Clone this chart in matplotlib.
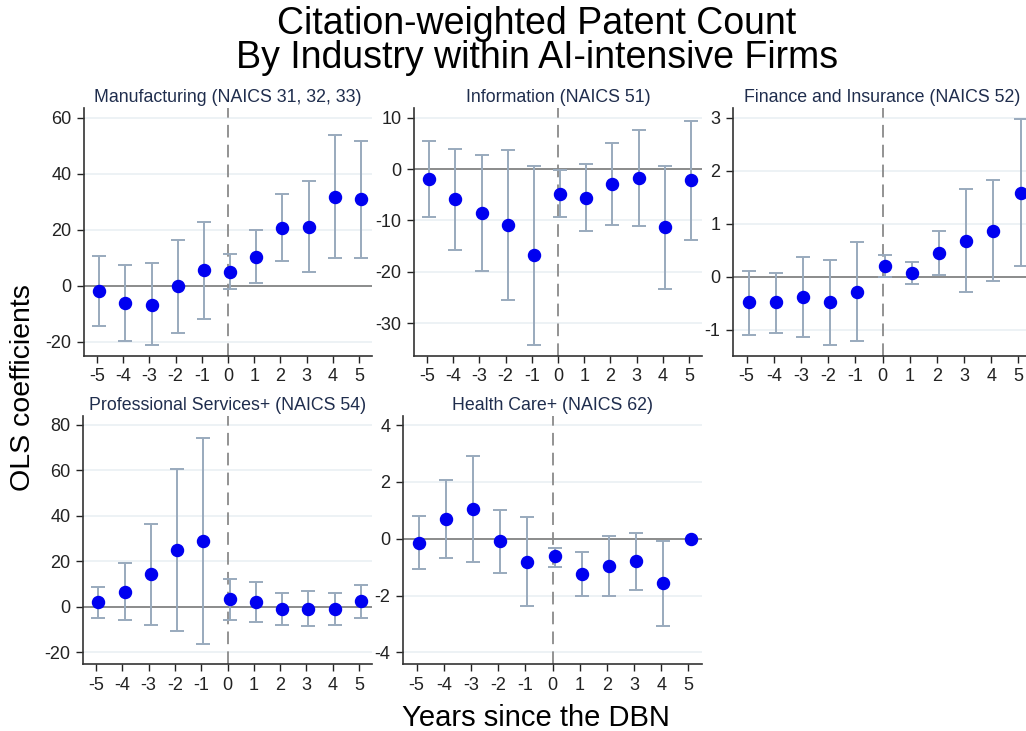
import matplotlib.pyplot as plt
import numpy as np

plt.rcParams['font.family'] = ['Liberation Sans', 'DejaVu Sans']
plt.rcParams['axes.unicode_minus'] = False

years = [-5, -4, -3, -2, -1, 0, 1, 2, 3, 4, 5]

# Manufacturing
manu_coef = [-1.7, -6.2, -6.7, -0.2, 5.5, 4.9, 10.4, 20.7, 21.1, 31.8, 30.8]
manu_hi = [10.8, 7.4, 8.1, 16.5, 22.6, 11.3, 19.8, 32.7, 37.5, 53.6, 51.8]
manu_lo = [-14.2, -19.5, -21.0, -16.8, -11.8, -1.2, 1.1, 8.9, 4.8, 10.1, 9.9]

# Information
info_coef = [-2.0, -5.9, -8.6, -10.9, -16.8, -4.9, -5.6, -2.9, -1.8, -11.3, -2.2]
info_hi = [5.5, 4.0, 2.7, 3.7, 0.7, -0.2, 1.0, 5.1, 7.6, 0.7, 9.4]
info_lo = [-9.4, -15.8, -19.9, -25.4, -34.3, -9.4, -12.0, -10.8, -11.1, -23.4, -13.8]

# Finance and Insurance
fin_coef = [-0.48, -0.48, -0.38, -0.48, -0.28, 0.21, 0.08, 0.45, 0.67, 0.87, 1.58]
fin_hi = [0.11, 0.08, 0.38, 0.31, 0.65, 0.42, 0.28, 0.86, 1.65, 1.83, 2.97]
fin_lo = [-1.09, -1.06, -1.14, -1.28, -1.20, 0.0, -0.13, 0.03, -0.28, -0.08, 0.21]

# Professional Services
prof_coef = [2.1, 6.6, 14.3, 24.9, 28.8, 3.2, 2.1, -1.2, -0.9, -1.2, 2.4]
prof_hi = [8.7, 19.0, 36.5, 60.7, 74.1, 12.2, 10.7, 6.2, 6.8, 6.2, 9.6]
prof_lo = [-5.1, -5.7, -7.9, -10.9, -16.2, -5.7, -6.6, -8.1, -8.4, -8.1, -4.9]

# Health Care (year 5 has no interval)
health_coef = [-0.14, 0.68, 1.05, -0.09, -0.81, -0.62, -1.24, -0.95, -0.80, -1.56, 0.0]
health_hi = [0.79, 2.08, 2.91, 1.01, 0.75, -0.31, -0.46, 0.09, 0.21, -0.07, 0.0]
health_lo = [-1.07, -0.69, -0.82, -1.19, -2.36, -0.98, -2.00, -2.00, -1.80, -3.06, 0.0]

W, H = 1026, 731
fig = plt.figure(figsize=(W / 100, H / 100), dpi=100)


def px_axes(left, right, top, bottom):
    return fig.add_axes([left / W, 1 - bottom / H, (right - left) / W, (bottom - top) / H])


panels = [
    ('Manufacturing (NAICS 31, 32, 33)', manu_coef, manu_lo, manu_hi,
     (84, 372, 108, 356), (-25, 63.4), [-20, 0, 20, 40, 60]),
    ('Information (NAICS 51)', info_coef, info_lo, info_hi,
     (414, 702, 108, 356), (-36.4, 11.9), [-30, -20, -10, 0, 10]),
    ('Finance and Insurance (NAICS 52)', fin_coef, fin_lo, fin_hi,
     (733, 1032, 108, 356), (-1.49, 3.18), [-1, 0, 1, 2, 3]),
    ('Professional Services+ (NAICS 54)', prof_coef, prof_lo, prof_hi,
     (83, 372, 416, 664), (-25.2, 83.8), [-20, 0, 20, 40, 60, 80]),
    ('Health Care+ (NAICS 62)', health_coef, health_lo, health_hi,
     (403, 702, 416, 664), (-4.41, 4.32), [-4, -2, 0, 2, 4]),
]

x = np.array(years) + 0.08
for title, coef, lo, hi, box, ylim, yticks in panels:
    ax = px_axes(*box)
    coef = np.array(coef)
    lo = np.array(lo)
    hi = np.array(hi)
    ax.set_xlim(-5.5, 5.5)
    ax.set_ylim(*ylim)
    ax.set_yticks(yticks)
    ax.set_xticks(years)
    for yv in yticks:
        ax.axhline(yv, color='#eaf0f3', lw=1.2, zorder=0)
    ax.axhline(0, color='#7a7a7a', lw=1.2, zorder=1)
    ax.axvline(0, color='#8a8a8a', lw=1.3, ls=(0, (7, 4)), zorder=1)
    mask = hi != lo
    ax.errorbar(x[mask], coef[mask], yerr=[coef[mask] - lo[mask], hi[mask] - coef[mask]],
                fmt='none', ecolor='#99aabd', elinewidth=1.4, capsize=5, capthick=1.4, zorder=2)
    ax.scatter(x, coef, s=75, color='#0000f0', zorder=3, clip_on=False)
    ax.spines['top'].set_visible(False)
    ax.spines['right'].set_visible(False)
    for s in ('left', 'bottom'):
        ax.spines[s].set_color('#333333')
        ax.spines[s].set_linewidth(1.2)
    ax.tick_params(labelsize=13, length=5, width=1, colors='#222222', pad=4)
    ax.set_title(title, fontsize=12.8, color='#1f2d4d', pad=4)

fig.text(537 / W, 1 - 24 / H, 'Citation-weighted Patent Count', ha='center', va='center', fontsize=27)
fig.text(537 / W, 1 - 58 / H, 'By Industry within AI-intensive Firms', ha='center', va='center', fontsize=27)
fig.text(23 / W, 1 - 388 / H, 'OLS coefficients', rotation=90, ha='center', va='center', fontsize=20.5)
fig.text(536 / W, 1 - 718 / H, 'Years since the DBN', ha='center', va='center', fontsize=21)

fig.savefig('out.png', dpi=100, facecolor='white')
